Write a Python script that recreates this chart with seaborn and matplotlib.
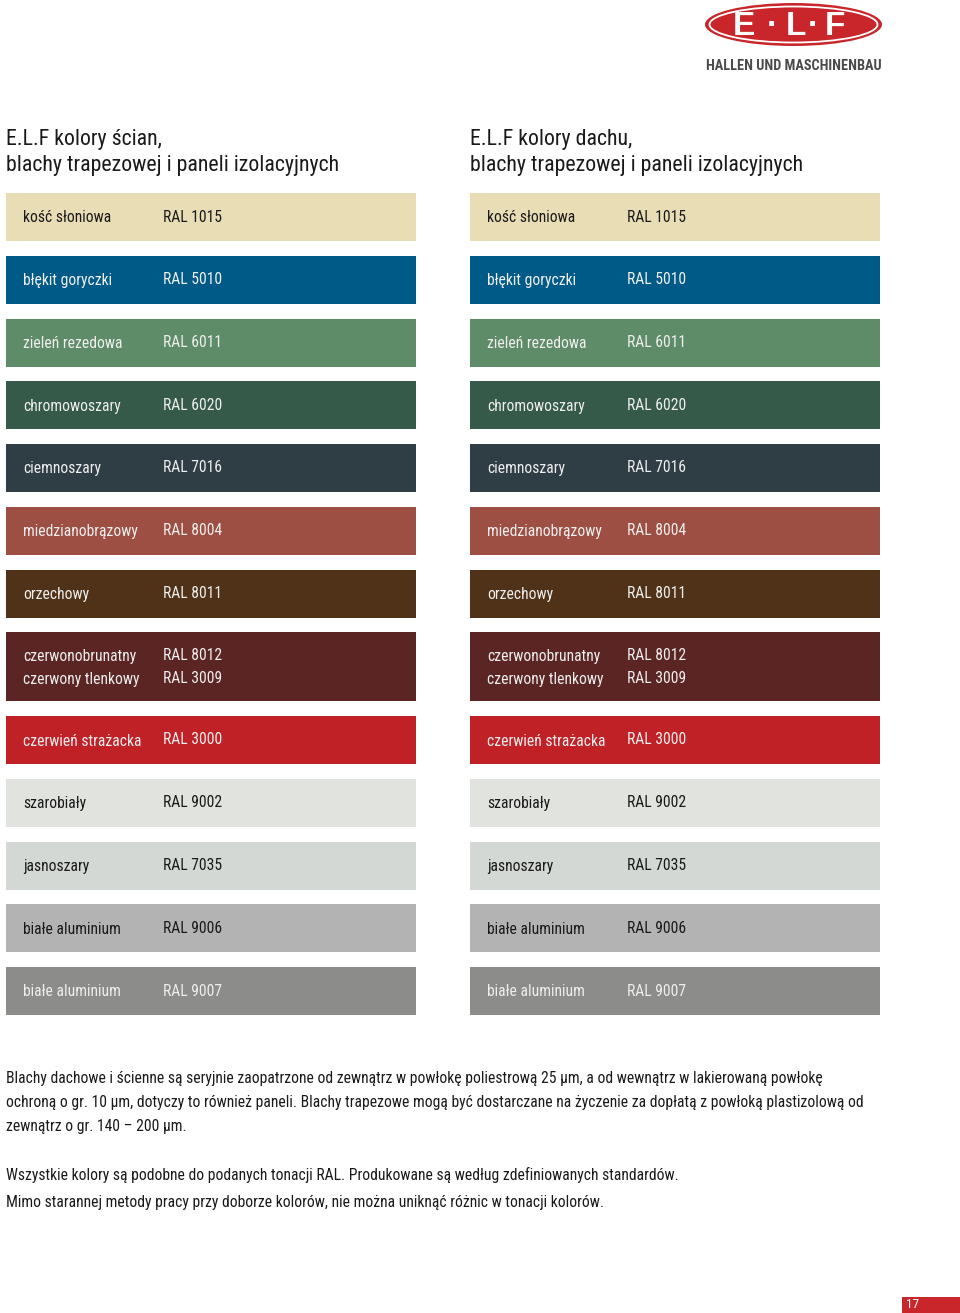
import matplotlib
matplotlib.use("Agg")
import matplotlib.pyplot as plt
from matplotlib import font_manager
from matplotlib.font_manager import FontProperties
from matplotlib.patches import Ellipse, Rectangle
import seaborn as sns

# ---------------- data ----------------
names = ["kość słoniowa", "błękit goryczki", "zieleń rezedowa", "chromowoszary",
         "ciemnoszary", "miedzianobrązowy", "orzechowy",
         "czerwonobrunatny\nczerwony tlenkowy", "czerwień strażacka",
         "szarobiały", "jasnoszary", "białe aluminium", "białe aluminium"]
codes = ["RAL 1015", "RAL 5010", "RAL 6011", "RAL 6020", "RAL 7016", "RAL 8004",
         "RAL 8011", "RAL 8012\nRAL 3009", "RAL 3000", "RAL 9002", "RAL 7035",
         "RAL 9006", "RAL 9007"]
swatch_colors = ["#E9DDB6", "#005A87", "#5F8C68", "#365A4A", "#2F3D45", "#9C4F42",
                 "#4F3218", "#5B2524", "#C02126", "#E1E4DE", "#D3D8D4", "#B3B3B3",
                 "#8C8C8A"]
text_colors = ["#1a1a1a", "#f0f0f0", "#eeeeee", "#eeeeee", "#eeeeee", "#eeeeee",
               "#eeeeee", "#eeeeee", "#eeeeee", "#1a1a1a", "#1a1a1a", "#1a1a1a",
               "#eeeeee"]
titles_l1 = ["E.L.F kolory ścian,", "E.L.F kolory dachu,"]
titles_l2 = ["blachy trapezowej i paneli izolacyjnych",
             "blachy trapezowej i paneli izolacyjnych"]
para1 = ["Blachy dachowe i ścienne są seryjnie zaopatrzone od zewnątrz w powłokę poliestrową 25 µm, a od wewnątrz w lakierowaną powłokę",
         "ochroną o gr. 10 µm, dotyczy to również paneli. Blachy trapezowe mogą być dostarczane na życzenie za dopłatą z powłoką plastizolową od",
         "zewnątrz o gr. 140 – 200 µm."]
para2 = ["Wszystkie kolory są podobne do podanych tonacji RAL. Produkowane są według zdefiniowanych standardów.",
         "Mimo starannej metody pracy przy doborze kolorów, nie można uniknąć różnic w tonacji kolorów."]
logo_letters = ["E", "·", "L", "·", "F"]
brand = "HALLEN UND MASCHINENBAU"
page_number = "17"

# ---------------- style ----------------
sns.set_theme(style="white")
plt.rcParams["font.family"] = ["Liberation Sans", "DejaVu Sans"]


def find_narrow(bold=False):
    cands = []
    for f in font_manager.fontManager.ttflist:
        fn = f.fname.lower()
        if ("narrow" in fn or "condensed" in fn) and "italic" not in fn and "oblique" not in fn:
            isbold = "bold" in fn
            if isbold == bold and "light" not in fn and "semi" not in fn and "extra" not in fn:
                pri = 0 if "liberation" in fn else (1 if "roboto" in fn else 2)
                cands.append((pri, f.fname))
    cands.sort()
    return FontProperties(fname=cands[0][1]) if cands else None


fp_reg = find_narrow(False) or FontProperties(family="Liberation Sans")
fp_bold = find_narrow(True) or FontProperties(family="Liberation Sans", weight="bold")

W, H = 960, 1313
fig = plt.figure(figsize=(W / 100, H / 100), dpi=100)
ax = fig.add_axes([0, 0, 1, 1])
ax.set_xlim(0, W)
ax.set_ylim(H, 0)
ax.axis("off")
renderer = fig.canvas.get_renderer()


def fit(texts, ref_text, target_w):
    w = ref_text.get_window_extent(renderer).width
    s = target_w / w
    for t in texts:
        t.set_fontsize(t.get_fontsize() * s)


# ---------------- swatches ----------------
col_x = [6, 470]
sw_w = 410
pitch = 62.75
tops, heights = [], []
extra = 0
for n in names:
    two = "\n" in n
    tops.append(193 + pitch * len(tops) + extra)
    heights.append(69 if two else 48)
    if two:
        extra += 21
centers = [t + h / 2 for t, h in zip(tops, heights)]

title_texts, sw_texts = [], []
for k, cx in enumerate(col_x):
    title_texts.append(ax.text(cx, 139, titles_l1[k], fontproperties=fp_reg, fontsize=17,
                               color="#1a1a1a", ha="left", va="center"))
    title_texts.append(ax.text(cx, 166, titles_l2[k], fontproperties=fp_reg, fontsize=17,
                               color="#1a1a1a", ha="left", va="center"))
    ax.barh(centers, [sw_w] * len(names), left=cx, height=heights,
            color=swatch_colors, edgecolor="none")
    for c, n, code, tc in zip(centers, names, codes, text_colors):
        sw_texts.append(ax.text(cx + 17, c + 1, n, fontproperties=fp_reg, fontsize=11.5,
                                color=tc, ha="left", va="center", linespacing=1.7))
        sw_texts.append(ax.text(cx + 157, c, code, fontproperties=fp_reg, fontsize=11.5,
                                color=tc, ha="left", va="center", linespacing=1.7))

fit(title_texts, title_texts[1], 334)
fit(sw_texts, sw_texts[10], 115)   # "miedzianobrązowy"

# ---------------- paragraphs ----------------
body = []
for j, line in enumerate(para1):
    body.append(ax.text(6, 1079 + 24 * j, line, fontproperties=fp_reg, fontsize=11.3,
                        color="#1a1a1a", ha="left", va="center"))
for j, line in enumerate(para2):
    body.append(ax.text(6, 1175 + 27 * j, line, fontproperties=fp_reg, fontsize=11.3,
                        color="#1a1a1a", ha="left", va="center"))
fit(body, body[0], 824)

# ---------------- logo ----------------
red = "#C8262B"
ax.add_patch(Ellipse((793.5, 24.5), 177, 43, facecolor=red, edgecolor="none"))
ax.add_patch(Ellipse((793.5, 24.5), 168, 36, facecolor="none", edgecolor="white", lw=1.3))
letter_x = [744, 772, 796, 813, 835]
for lx, ch in zip(letter_x, logo_letters):
    ax.text(lx, 35, ch, fontsize=24, fontweight="bold", color="white",
            ha="center", va="baseline", family=["Liberation Sans", "DejaVu Sans"])
bt = ax.text(706, 66, brand, fontproperties=fp_bold, fontsize=11, color="#4a4a4a",
             ha="left", va="center")
fit([bt], bt, 175)

# ---------------- page number ----------------
ax.add_patch(Rectangle((902, 1297), 58, 16, facecolor=red, edgecolor="none"))
ax.text(906, 1305, page_number, fontproperties=fp_reg, fontsize=9.5, color="white",
        ha="left", va="center")

fig.savefig("out.png", dpi=100)
